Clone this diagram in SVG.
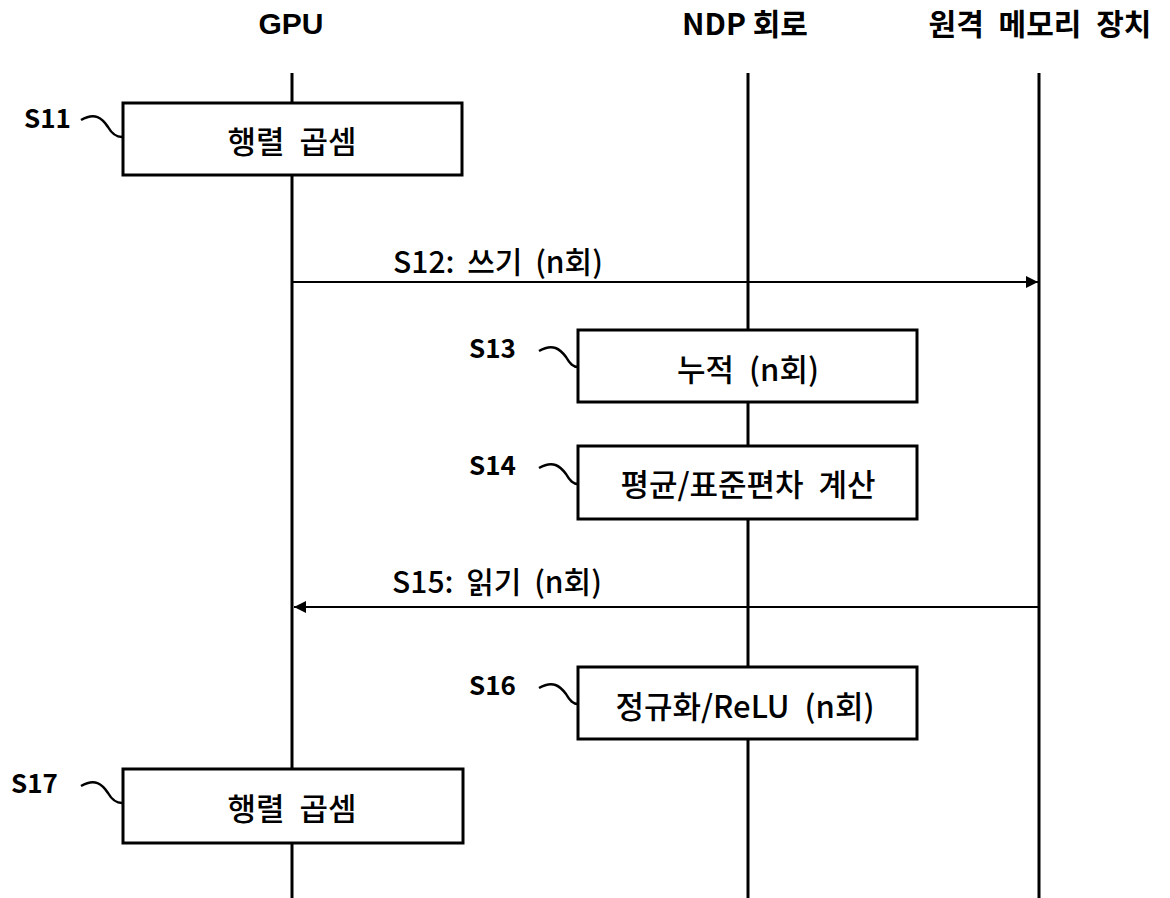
<svg xmlns="http://www.w3.org/2000/svg" width="1170" height="898" viewBox="0 0 1170 898">
<defs>
<style>
text{font-family:"Noto Sans CJK KR",sans-serif;fill:#000}
.hdr{font-size:30px;font-weight:bold;text-anchor:middle}
.lbl{font-size:26px;font-weight:bold}
.box{fill:#fff;stroke:#000;stroke-width:3}
.bt{font-size:31px;font-weight:500;text-anchor:middle;word-spacing:8px}
.at{font-size:30px;font-weight:500;text-anchor:middle;word-spacing:6px}
.life{stroke:#000;stroke-width:3}
.sq{fill:none;stroke:#000;stroke-width:2.5}
.arr{stroke:#000;stroke-width:2}
</style>
<marker id="ah" viewBox="0 0 10 10" refX="10" refY="5" markerWidth="13" markerHeight="12" markerUnits="userSpaceOnUse" orient="auto">
<path d="M0,0 L10,5 L0,10 z" fill="#000"/>
</marker>
</defs>
<rect width="1170" height="898" fill="#fff"/>
<g id="headers">
<text class="hdr" x="291" y="34" style="font-family:'Liberation Sans',sans-serif">GPU</text>
<text class="hdr" x="745" y="35">NDP 회로</text>
<text class="hdr" x="1040" y="35" style="word-spacing:8px">원격 메모리 장치</text>
</g>
<g id="lifelines">
<line class="life" x1="292" y1="73" x2="292" y2="898"/>
<line class="life" x1="748" y1="73" x2="748" y2="898"/>
<line class="life" x1="1039" y1="73" x2="1039" y2="898"/>
</g>
<g id="connectors">
<line class="arr" x1="292" y1="282" x2="1038" y2="282" marker-end="url(#ah)"/>
<text class="at" x="498" y="273">S12: 쓰기 (n회)</text>
<line class="arr" x1="1039" y1="607" x2="294" y2="607" marker-end="url(#ah)"/>
<text class="at" x="497" y="593">S15: 읽기 (n회)</text>
</g>
<g id="S11">
<rect class="box" x="123" y="103" width="339" height="72"/>
<text class="bt" x="292" y="153">행렬 곱셈</text>
<text class="lbl" x="24" y="128">S11</text>
<path class="sq" d="M81,120 C95,112 102,118 108,127 C112,134 116,137 122,137"/>
</g>
<g id="S13">
<rect class="box" x="578" y="330" width="339" height="72"/>
<text class="bt" x="748" y="381">누적 (n회)</text>
<text class="lbl" x="469" y="358">S13</text>
<path class="sq" d="M539,351 C553,343 560,349 566,357 C570,364 573,367 578,367"/>
</g>
<g id="S14">
<rect class="box" x="578" y="446" width="339" height="73"/>
<text class="bt" x="748" y="496">평균/표준편차 계산</text>
<text class="lbl" x="469" y="475">S14</text>
<path class="sq" d="M539,468 C553,460 560,466 566,474 C570,481 573,484 578,484"/>
</g>
<g id="S16">
<rect class="box" x="578" y="667" width="339" height="72"/>
<text class="bt" x="745" y="718">정규화/ReLU (n회)</text>
<text class="lbl" x="469" y="695">S16</text>
<path class="sq" d="M539,688 C553,680 560,686 566,694 C570,701 573,704 578,704"/>
</g>
<g id="S17">
<rect class="box" x="123" y="769" width="340" height="74"/>
<text class="bt" x="292" y="820">행렬 곱셈</text>
<text class="lbl" x="11" y="793">S17</text>
<path class="sq" d="M81,786 C95,778 102,784 108,793 C112,800 116,803 122,803"/>
</g>
</svg>
